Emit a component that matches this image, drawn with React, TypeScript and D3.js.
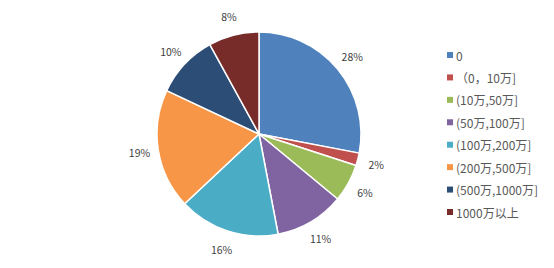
import React from "react";
import * as d3 from "d3";

const categories = ["0", "（0，10万]", "(10万,50万]", "(50万,100万]", "(100万,200万]", "(200万,500万]", "(500万,1000万]", "1000万以上"];
const values = [28, 2, 6, 11, 16, 19, 10, 8];
const colors = ["#4F81BD", "#C0504D", "#9BBB59", "#8064A2", "#4BACC6", "#F79646", "#2C4D75", "#772C2A"];

const W = 554;
const H = 268;
const cx = 259;
const cy = 134;
const R = 102;
const labelR = 121;
const FONT = "'Noto Sans CJK SC', 'Noto Sans', sans-serif";

export default function App() {
  const total = d3.sum(values);
  const pie = d3.pie<number>().sort(null).value((d) => d);
  const arcs = pie(values);
  const arc = d3.arc<d3.PieArcDatum<number>>().innerRadius(0).outerRadius(R);
  const labelArc = d3.arc<d3.PieArcDatum<number>>().innerRadius(labelR).outerRadius(labelR);
  const legendY = d3.scaleLinear().domain([0, categories.length - 1]).range([55, 212]);

  return (
    <svg width={W} height={H} style={{ position: "absolute", left: 0, top: 0, background: "#fff" }}>
      <g transform={`translate(${cx},${cy})`}>
        {arcs.map((a, i) => (
          <path key={i} d={arc(a) || ""} fill={colors[i]} stroke="#fff" strokeWidth={1.5} strokeLinejoin="round" />
        ))}
        {arcs.map((a, i) => {
          const [x, y] = labelArc.centroid(a);
          return (
            <text key={"l" + i} x={x} y={y} textAnchor="middle" dominantBaseline="central" fontSize={10.5} fill="#404040" fontFamily={FONT}>
              {Math.round((values[i] / total) * 100)}%
            </text>
          );
        })}
      </g>
      <g>
        {categories.map((c, i) => (
          <g key={c} transform={`translate(447,${legendY(i)})`}>
            <rect x={0} y={-3} width={6} height={6} fill={colors[i]} />
            <text x={9} y={0} dominantBaseline="central" fontSize={12} fill="#595959" fontFamily={FONT}>
              {c}
            </text>
          </g>
        ))}
      </g>
    </svg>
  );
}
